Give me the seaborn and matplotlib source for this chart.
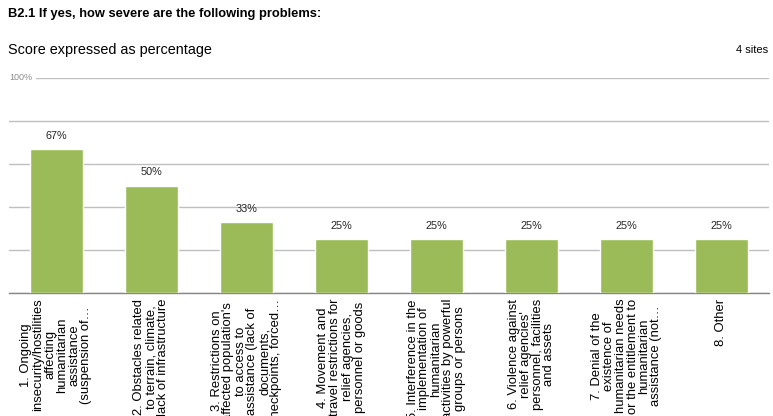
import matplotlib
matplotlib.use("Agg")
import matplotlib.pyplot as plt
import matplotlib.transforms as mtransforms
import seaborn as sns
import pandas as pd
import numpy as np

categories = [
    "1. Ongoing\ninsecurity/hostilities\naffecting\nhumanitarian\nassistance\n(suspension of\u2026",
    "2. Obstacles related\nto terrain, climate,\nlack of infrastructure",
    "3. Restrictions on\naffected population's\nto access to\nassistance (lack of\ndocuments,\ncheckpoints, forced\u2026",
    "4. Movement and\ntravel restrictions for\nrelief agencies,\npersonnel or goods",
    "5. Interference in the\nimplementation of\nhumanitarian\nactivities by powerful\ngroups or persons",
    "6. Violence against\nrelief agencies'\npersonnel, facilities\nand assets",
    "7. Denial of the\nexistence of\nhumanitarian needs\nor the entitlement to\nhumanitarian\nassistance (not\u2026",
    "8. Other",
]
values = [67, 50, 33, 25, 25, 25, 25, 25]
value_labels = ["67%", "50%", "33%", "25%", "25%", "25%", "25%", "25%"]
y_ticks = [0, 20, 40, 60, 80, 100]

title = "B2.1 If yes, how severe are the following problems:"
subtitle = "Score expressed as percentage"
sites = "4 sites"

sns.set_theme(style="white")
plt.rcParams["font.family"] = ["Liberation Sans", "DejaVu Sans"]

df = pd.DataFrame({"cat": categories, "val": values})

fig = plt.figure(figsize=(7.73, 4.16), dpi=100)
ax = fig.add_axes([9 / 773, (416 - 293) / 416, 760 / 773, 215 / 416])

sns.barplot(data=df, x="cat", y="val", color="#9BBB59", saturation=1,
            width=0.56, ax=ax, zorder=3)

ax.set_ylim(0, 100)
ax.set_xlim(-0.5, len(categories) - 0.5)
ax.set_yticks(y_ticks)
ax.set_yticklabels([])
ax.tick_params(axis="y", length=0)
ax.grid(axis="y", color="#BFBFBF", linewidth=1.0, zorder=0)
ax.grid(axis="x", visible=False)
for s in ["top", "right", "left"]:
    ax.spines[s].set_visible(False)
ax.spines["bottom"].set_color("#868686")
ax.spines["bottom"].set_linewidth(1.0)
ax.set_xlabel("")
ax.set_ylabel("")

# category boundary tick marks
ax.set_xticks(np.arange(-0.5, len(categories), 1.0), minor=True)
ax.tick_params(axis="x", which="minor", length=4, width=1, color="#868686", direction="out")
ax.tick_params(axis="x", which="major", length=0, pad=4)
ax.set_xticks(range(len(categories)))
ax.set_xticklabels(categories, rotation=90, ha="center", va="top",
                   multialignment="center", fontsize=9.4, color="#000000",
                   linespacing=1.0)

ax.bar_label(ax.containers[0], labels=value_labels, padding=6,
             fontsize=7.8, color="#262626")

# 100% label over the top gridline
trans = mtransforms.blended_transform_factory(ax.transAxes, ax.transData)
ax.text(0.0, 100, "100%", transform=trans, ha="left", va="center",
        fontsize=6.5, color="#8C8C8C",
        bbox=dict(facecolor="white", edgecolor="none", pad=2.5))

fig.text(8 / 773, 1 - 14 / 416, title, ha="left", va="center",
         fontsize=9.3, fontweight="bold", color="#000000")
fig.text(8 / 773, 1 - 50 / 416, subtitle, ha="left", va="center",
         fontsize=10.4, color="#000000")
fig.text(768 / 773, 1 - 50 / 416, sites, ha="right", va="center",
         fontsize=8, color="#000000")

fig.savefig("out.png", dpi=100)
